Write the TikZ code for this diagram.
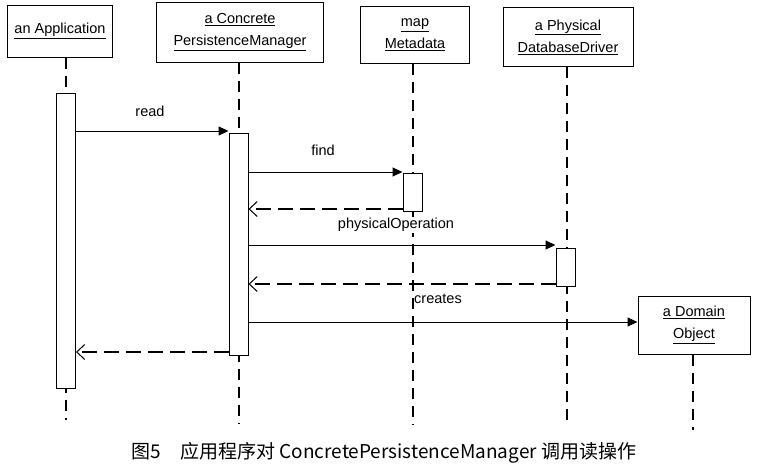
\documentclass[tikz,border=0pt]{standalone}
\usepackage{fontspec}
\setmainfont{Liberation Sans}
\newfontfamily\cjk{Noto Sans CJK SC}
\usetikzlibrary{arrows.meta,positioning}

\begin{document}
\begin{tikzpicture}[x=1pt,y=-1pt,
  obj/.style={draw,line width=1pt,align=center,inner sep=0pt,
    font=\fontsize{14.5}{22}\selectfont},
  bar/.style={draw,fill=white,line width=1pt,minimum width=19,inner sep=0pt},
  life/.style={line width=2.5pt,dash pattern=on 11pt off 7pt},
  msg/.style={line width=1pt,-{Triangle[length=10pt,width=9pt]}},
  ret/.style={line width=2.5pt,dash pattern=on 15pt off 7pt,
    -{Straight Barb[length=8pt,width=15pt,line width=1pt]}},
  lbl/.style={font=\fontsize{14.5}{17}\selectfont,inner sep=1pt}]

  \useasboundingbox (0,0) rectangle (758,474);

  % objects
  \node[obj,minimum width=105,minimum height=52] (app) at (60,31) {\underline{an Application}};
  \node[obj,minimum width=167,minimum height=60] (mgr) at (240,32) {\underline{a Concrete}\\\underline{PersistenceManager}};
  \node[obj,minimum width=109,minimum height=57] (meta) at (415,35) {\underline{map}\\\underline{Metadata}};
  \node[obj,minimum width=130,minimum height=59] (drv) at (568,37) {\underline{a Physical}\\\underline{DatabaseDriver}};

  \coordinate (append) at (66,420);
  \coordinate (mgrend) at (239,423);
  \coordinate (metaend) at (413,425);
  \coordinate (drvend) at (567,425);
  \coordinate (domend) at (693,430);

  % lifelines
  \draw[life] (append |- app.south) -- (append);
  \draw[life] (mgrend |- mgr.south) -- (mgrend);
  \draw[life] (metaend |- meta.south) -- (metaend);
  \draw[life] (drvend |- drv.south) -- (drvend);

  \node[obj,fill=white,minimum width=112,minimum height=58] (dom) at (694,325) {\underline{a Domain}\\\underline{Object}};
  \draw[life] (domend |- dom.south) -- (domend);

  % activations
  \node[bar,minimum height=295,anchor=north] (appbar) at (66,93) {};
  \node[bar,minimum height=222,anchor=north] (mgrbar) at (238.5,133) {};
  \node[bar,minimum height=38,anchor=north] (metabar) at (412.5,173) {};
  \node[bar,minimum height=38,anchor=north] (drvbar) at (565.5,248) {};

  % messages
  \draw[msg] (appbar.east |- 0,131) -- (mgrbar.west |- 0,131);
  \draw[msg] (mgrbar.east |- 0,172) -- (metabar.west |- 0,172);
  \draw[ret] (metabar.west |- 0,209) -- (mgrbar.east |- 0,209);
  \draw[msg] (mgrbar.east |- 0,245) -- (drvbar.west |- 0,245);
  \draw[ret] (drvbar.west |- 0,284) -- (mgrbar.east |- 0,284);
  \draw[msg] (mgrbar.east |- 0,322) -- (dom.west |- 0,322);
  \draw[ret] (mgrbar.west |- 0,352) -- (appbar.east |- 0,352);

  \node[lbl] (read) at (150,111) {read};
  \node[lbl] (find) at (323,150) {find};
  \node[lbl,fill=white] (physop) at (396,225) {physicalOperation};
  \node[lbl] (creates) at (438,299) {creates};

  \node[font=\cjk\fontsize{19}{23}\selectfont] (caption) at (384,453)
    {图5\quad 应用程序对 ConcretePersistenceManager 调用读操作};

\end{tikzpicture}
\end{document}
